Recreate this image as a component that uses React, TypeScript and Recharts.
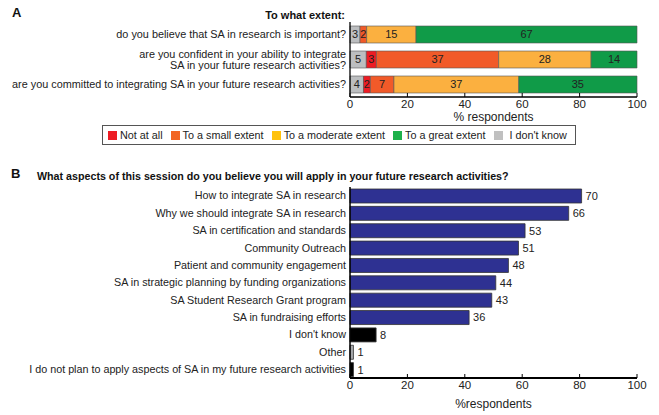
import React from 'react';
import { Bar, BarChart, Cell, LabelList, XAxis, YAxis } from 'recharts';

// Panel A: "To what extent"
const questions = [
  'do you believe that SA in research is important?',
  'are you confident in your ability to integrate\nSA in your future research activities?',
  'are you committed to integrating SA in your future research activities?',
];
// bar lengths (% respondents) and the counts printed inside the segments
const dontKnowPct = [3.5, 5.7, 4.7];
const notAtAllPct = [0, 3.5, 2.4];
const smallPct = [2.3, 42.6, 8.2];
const moderatePct = [17.2, 32.2, 43.5];
const greatPct = [77.0, 16.0, 41.2];
const dontKnowN = [3, 5, 4];
const notAtAllN = [0, 3, 2];
const smallN = [2, 37, 7];
const moderateN = [15, 28, 37];
const greatN = [67, 14, 35];

const extentSeries = [
  { key: 'dontKnow', name: "I don't know", color: '#bcbec0' },
  { key: 'notAtAll', name: 'Not at all', color: '#ed1c24' },
  { key: 'small', name: 'To a small extent', color: '#f15a29' },
  { key: 'moderate', name: 'To a moderate extent', color: '#fbb040' },
  { key: 'great', name: 'To a great extent', color: '#109b48' },
];
const legendOrder = ['notAtAll', 'small', 'moderate', 'great', 'dontKnow'];
const legendColors: Record<string, string> = {
  notAtAll: '#ed1c24',
  small: '#f26522',
  moderate: '#ffc20e',
  great: '#1db14b',
  dontKnow: '#c0c0c0',
};

// Panel B: aspects to apply
const aspects = [
  'How to integrate SA in research',
  'Why we should integrate SA in research',
  'SA in certification and standards',
  'Community Outreach',
  'Patient and community engagement',
  'SA in strategic planning by funding organizations',
  'SA Student Research Grant program',
  'SA in fundraising efforts',
  "I don't know",
  'Other',
  'I do not plan to apply aspects of SA in my future research activities',
];
const aspectPct = [80.7, 76.2, 61.0, 58.7, 55.2, 50.8, 49.4, 41.5, 9.1, 1.2, 1.2];
const aspectN = [70, 66, 53, 51, 48, 44, 43, 36, 8, 1, 1];
const aspectColors = [
  '#2e3192', '#2e3192', '#2e3192', '#2e3192', '#2e3192', '#2e3192', '#2e3192', '#2e3192',
  '#000000', '#a7a9ac', '#000000',
];
const pctTicks = [0, 20, 40, 60, 80, 100];

const FONT = '"Liberation Sans", Arial, sans-serif';

const extentData = questions.map((q, i) => ({
  q,
  dontKnow: dontKnowPct[i],
  notAtAll: notAtAllPct[i],
  small: smallPct[i],
  moderate: moderatePct[i],
  great: greatPct[i],
  dontKnowN: dontKnowN[i],
  notAtAllN: notAtAllN[i],
  smallN: smallN[i],
  moderateN: moderateN[i],
  greatN: greatN[i],
}));

const aspectData = aspects.map((a, i) => ({ a, pct: aspectPct[i], n: aspectN[i] }));

const makeCategoryTick = (fontSize: number) => (props: any) => {
  const { x, y, payload } = props;
  const lines = String(payload.value).split('\n');
  const lh = 11.5;
  const y0 = y - ((lines.length - 1) * lh) / 2;
  return (
    <text x={x} y={y0} textAnchor="end" fontSize={fontSize} fill="#222" fontFamily={FONT}>
      {lines.map((l, i) => (
        <tspan key={i} x={x} y={y0 + i * lh} dy="0.35em">
          {l}
        </tspan>
      ))}
    </text>
  );
};
const QuestionTick = makeCategoryTick(10.85);
const AspectTick = makeCategoryTick(10.75);

const PctTick = (props: any) => {
  const { x, y, payload } = props;
  return (
    <g>
      <line x1={x} x2={x} y1={y} y2={y - 4} stroke="#000" strokeWidth={1} />
      <text x={x} y={y + 10.5} textAnchor="middle" fontSize={11.5} fill="#222" fontFamily={FONT}>
        {payload.value}
      </text>
    </g>
  );
};

const hideZero = (v: any) => (v === 0 ? '' : v);

export default function App() {
  return (
    <div style={{ position: 'absolute', left: 0, top: 0, width: 659, height: 415, background: '#fff', fontFamily: FONT }}>
      <svg width={659} height={415} style={{ position: 'absolute', left: 0, top: 0 }}>
        <text x={12} y={17} fontSize={13} fontWeight="bold" fill="#111" fontFamily={FONT}>A</text>
        <text x={345} y={19} fontSize={11} fontWeight="bold" textAnchor="end" fill="#111" fontFamily={FONT}>
          To what extent:
        </text>
        <text x={11} y={178} fontSize={13} fontWeight="bold" fill="#111" fontFamily={FONT}>B</text>
        <text x={37} y={180} fontSize={10.7} fontWeight="bold" fill="#111" fontFamily={FONT}>
          What aspects of this session do you believe you will apply in your future research activities?
        </text>
      </svg>

      <div style={{ position: 'absolute', left: 0, top: 0 }}>
        <BarChart
          width={659}
          height={125}
          data={extentData}
          layout="vertical"
          margin={{ top: 22, right: 22, bottom: 0, left: 0 }}
          barSize={17}
        >
          <XAxis
            type="number"
            domain={[0, 100]}
            ticks={pctTicks}
            tick={<PctTick />}
            tickSize={0}
            tickMargin={0}
            tickLine={false}
            height={28}
            axisLine={{ stroke: '#000', strokeWidth: 1.3 }}
            label={{ value: '% respondents', position: 'insideBottom', offset: 4, fontSize: 12, fill: '#222' }}
          />
          <YAxis
            type="category"
            dataKey="q"
            width={350}
            tick={<QuestionTick />}
            tickSize={0}
            tickMargin={4}
            tickLine={false}
            axisLine={{ stroke: '#000', strokeWidth: 1.3 }}
            interval={0}
          />
          {extentSeries.map((s) => (
            <Bar
              key={s.key}
              dataKey={s.key}
              name={s.name}
              stackId="a"
              fill={s.color}
              stroke="#555"
              strokeWidth={0.6}
              isAnimationActive={false}
            >
              <LabelList
                dataKey={s.key + 'N'}
                position="center"
                formatter={hideZero}
                fontSize={11}
                fill="#222"
              />
            </Bar>
          ))}
        </BarChart>
      </div>

      <div
        style={{
          position: 'absolute',
          left: 102,
          top: 125,
          width: 474,
          height: 20,
          border: '1px solid #555',
          display: 'flex',
          alignItems: 'center',
          paddingLeft: 5,
          boxSizing: 'border-box',
          fontSize: 10.8,
          color: '#222',
          whiteSpace: 'nowrap',
        }}
      >
        {legendOrder.map((k) => {
          const s = extentSeries.find((e) => e.key === k)!;
          return (
            <div key={k} style={{ display: 'flex', alignItems: 'center', marginRight: 8 }}>
              <span
                style={{
                  display: 'inline-block',
                  width: 9,
                  height: 9,
                  background: legendColors[k],
                  marginRight: k === 'dontKnow' ? 7 : 3,
                }}
              />
              <span>{s.name}</span>
            </div>
          );
        })}
      </div>

      <div style={{ position: 'absolute', left: 0, top: 160 }}>
        <BarChart
          width={659}
          height={255}
          data={aspectData}
          layout="vertical"
          margin={{ top: 27, right: 22, bottom: 0, left: 0 }}
          barSize={14}
        >
          <XAxis
            type="number"
            domain={[0, 100]}
            ticks={pctTicks}
            tick={<PctTick />}
            tickSize={0}
            tickMargin={0}
            tickLine={false}
            height={37}
            axisLine={{ stroke: '#000', strokeWidth: 2 }}
            label={{ value: '%respondents', position: 'insideBottom', offset: 7, fontSize: 12, fill: '#222' }}
          />
          <YAxis
            type="category"
            dataKey="a"
            width={350}
            tick={<AspectTick />}
            tickSize={0}
            tickMargin={4}
            tickLine={false}
            axisLine={{ stroke: '#000', strokeWidth: 1.5 }}
            interval={0}
          />
          <Bar dataKey="pct" stroke="#333" strokeWidth={0.8} isAnimationActive={false}>
            {aspectData.map((d, i) => (
              <Cell key={d.a} fill={aspectColors[i]} />
            ))}
            <LabelList dataKey="n" position="right" offset={4} fontSize={11} fill="#222" />
          </Bar>
        </BarChart>
      </div>
    </div>
  );
}
